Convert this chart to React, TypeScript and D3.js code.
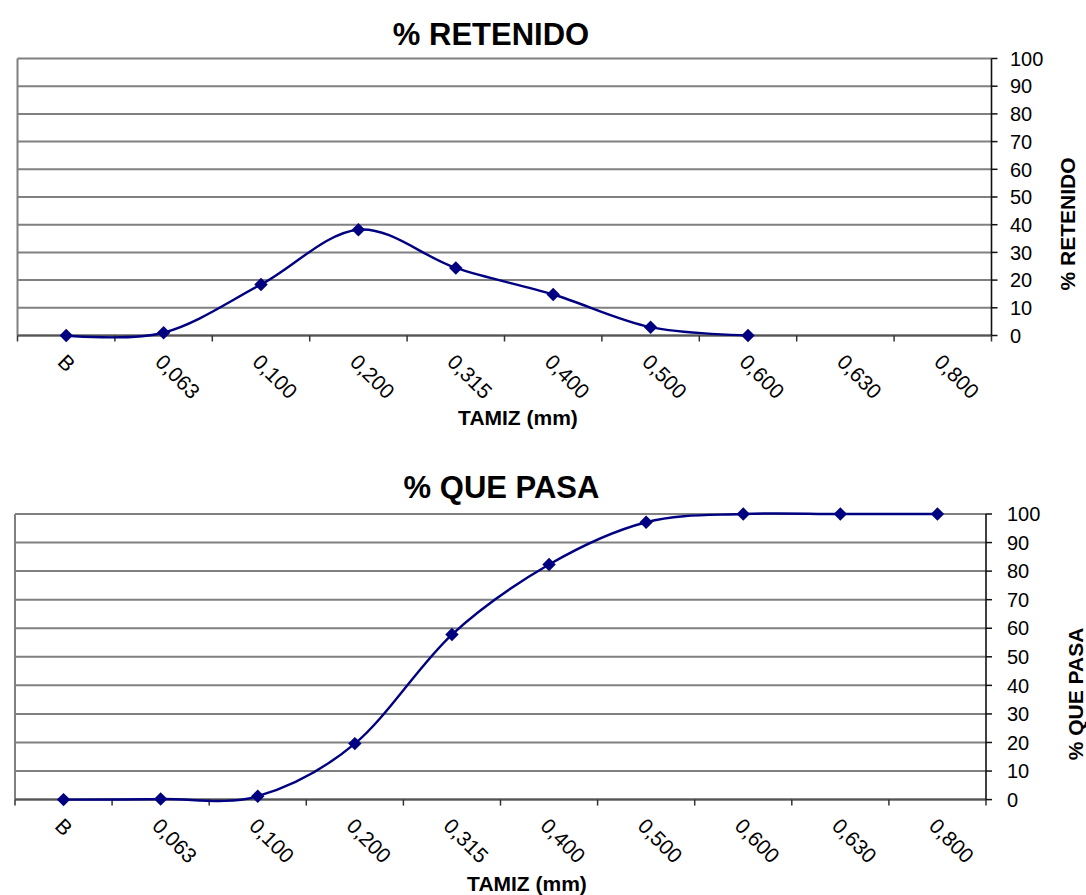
import React from "react";
import * as d3 from "d3";

const categories = ["B", "0,063", "0,100", "0,200", "0,315", "0,400", "0,500", "0,600", "0,630", "0,800"];
const retenidoValues = [0, 1.0, 18.4, 38.2, 24.4, 14.8, 3.0, 0];
const pasaValues = [0, 0.2, 1.2, 19.6, 57.8, 82.3, 97.1, 100, 100, 100];
const yTicks = [0, 10, 20, 30, 40, 50, 60, 70, 80, 90, 100];

const FONT = "'Liberation Sans', Arial, sans-serif";
const NAVY = "#000080";
const GRID = "#808080";

type PanelProps = {
  values: number[];
  left: number;
  right: number;
  top: number;
  bottom: number;
  title: string;
  titleX: number;
  titleY: number;
  yTitle: string;
  yTitleX: number;
  yTitleY: number;
  xTitleX: number;
  xTitleY: number;
  tickLabelX: number;
};

function Panel(p: PanelProps) {
  const x = d3.scaleBand<string>().domain(categories).range([p.left, p.right]).padding(0);
  const y = d3.scaleLinear().domain([0, 100]).range([p.bottom, p.top]);
  const bw = x.bandwidth();
  const pts: [number, number][] = p.values.map((v, i) => [x(categories[i])! + bw / 2, y(v)]);
  const line = d3.line().curve(d3.curveCardinal.tension(0))(pts) || "";
  const diamond = d3.symbol().type(d3.symbolDiamond2).size(115)() || "";
  const boundaries = categories.map((c) => x(c)!).concat([p.right]);
  return (
    <g>
      {yTicks.map((t) => (
        <line key={"g" + t} x1={p.left} x2={p.right} y1={y(t)} y2={y(t)} stroke={GRID} strokeWidth={2} />
      ))}
      <line x1={p.left} x2={p.left} y1={p.top} y2={p.bottom} stroke={GRID} strokeWidth={2} />
      <line x1={p.left} x2={p.right} y1={p.bottom} y2={p.bottom} stroke="#555" strokeWidth={2} />
      {boundaries.map((bx, i) => (
        <line key={"xt" + i} x1={bx} x2={bx} y1={p.bottom} y2={p.bottom + 6} stroke="#333" strokeWidth={1.5} />
      ))}
      <line x1={p.right} x2={p.right} y1={p.top} y2={p.bottom} stroke="#111" strokeWidth={1.6} />
      {yTicks.map((t) => (
        <g key={"yt" + t}>
          <line x1={p.right} x2={p.right + 6} y1={y(t)} y2={y(t)} stroke="#111" strokeWidth={1.5} />
          <text x={p.tickLabelX} y={y(t)} dy="0.36em" fontFamily={FONT} fontSize={20} fill="#000">
            {t}
          </text>
        </g>
      ))}
      {categories.map((c) => (
        <g key={"xl" + c} transform={`translate(${x(c)! + bw / 2 + 1},${p.bottom + 17}) rotate(45)`}>
          <text x={0} y={0} dy="0.72em" fontFamily={FONT} fontSize={21} fill="#000">
            {c}
          </text>
        </g>
      ))}
      <path d={line} fill="none" stroke={NAVY} strokeWidth={2.4} />
      {pts.map((pt, i) => (
        <path key={"m" + i} d={diamond} transform={`translate(${pt[0]},${pt[1]})`} fill={NAVY} />
      ))}
      <text x={p.titleX} y={p.titleY} textAnchor="middle" fontFamily={FONT} fontWeight="bold" fontSize={31} fill="#000">
        {p.title}
      </text>
      <text
        transform={`translate(${p.yTitleX},${p.yTitleY}) rotate(-90)`}
        textAnchor="middle"
        fontFamily={FONT}
        fontWeight="bold"
        fontSize={21}
        fill="#000"
      >
        {p.yTitle}
      </text>
      <text x={p.xTitleX} y={p.xTitleY} textAnchor="middle" fontFamily={FONT} fontWeight="bold" fontSize={21} fill="#000">
        TAMIZ (mm)
      </text>
    </g>
  );
}

export default function App() {
  return (
    <svg width={1086} height={895} style={{ position: "absolute", left: 0, top: 0, background: "#fff" }}>
      <rect x={0} y={0} width={1086} height={895} fill="#fff" />
      <Panel
        values={retenidoValues}
        left={17.5}
        right={991.5}
        top={58.5}
        bottom={335.5}
        title="% RETENIDO"
        titleX={491}
        titleY={45}
        yTitle="% RETENIDO"
        yTitleX={1075}
        yTitleY={224}
        xTitleX={518}
        xTitleY={425}
        tickLabelX={1010}
      />
      <Panel
        values={pasaValues}
        left={15}
        right={986}
        top={514}
        bottom={799.6}
        title="% QUE PASA"
        titleX={501.5}
        titleY={498}
        yTitle="% QUE PASA"
        yTitleX={1083}
        yTitleY={694}
        xTitleX={527}
        xTitleY={891}
        tickLabelX={1007}
      />
    </svg>
  );
}
